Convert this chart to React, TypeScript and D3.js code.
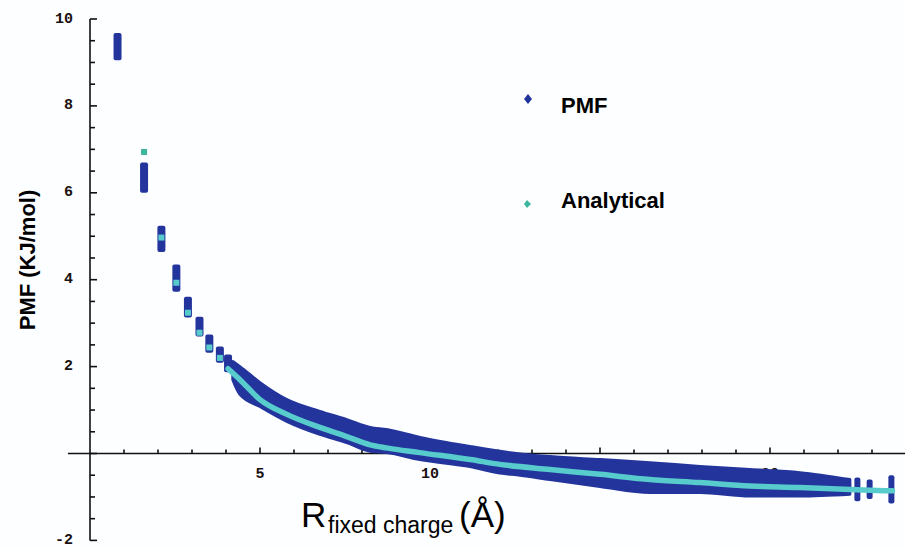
import React from "react";
import * as d3 from "d3";

// PMF spread at the discrete sampling distances (Å, lower, upper in KJ/mol)
const clusterR = [0.81, 1.59, 2.10, 2.54, 2.88, 3.22, 3.51, 3.82, 4.06];
const clusterLo = [9.05, 6.0, 4.64, 3.72, 3.13, 2.69, 2.32, 2.09, 1.87];
const clusterHi = [9.68, 6.7, 5.24, 4.35, 3.61, 3.15, 2.74, 2.46, 2.28];

// PMF band envelope in the dense region
const bandR = [4.2, 4.41, 5.0, 5.79, 6.76, 7.55, 8.24, 8.72, 9.7, 11.18, 12.06, 12.65, 13.53, 15.0, 16.47, 17.94, 19.41, 20.88, 22.35];
const bandHi = [2.12, 2.0, 1.63, 1.24, 0.97, 0.78, 0.6, 0.55, 0.37, 0.16, 0.05, -0.01, -0.07, -0.14, -0.21, -0.3, -0.37, -0.44, -0.6];
const bandLo = [1.7, 1.36, 1.08, 0.74, 0.44, 0.25, 0.05, 0.02, -0.14, -0.3, -0.45, -0.5, -0.6, -0.76, -0.9, -0.9, -0.98, -0.98, -0.94];

// Scattered PMF samples at the far end
const tailR = [22.57, 22.93, 23.57];
const tailLo = [-1.1, -1.05, -1.15];
const tailHi = [-0.55, -0.6, -0.5];

// Analytical curve
const analyticR = [1.59, 2.10, 2.54, 2.88, 3.22, 3.51, 3.82, 4.06, 4.41, 5.0, 5.79, 6.76, 7.55, 8.24, 8.72, 9.7, 11.18, 12.06, 13.53, 15.0, 16.47, 17.94, 19.41, 20.88, 22.35, 23.6];
const analyticY = [6.94, 4.97, 3.93, 3.24, 2.78, 2.44, 2.2, 1.95, 1.7, 1.24, 0.9, 0.6, 0.39, 0.2, 0.13, 0.02, -0.14, -0.25, -0.37, -0.48, -0.6, -0.67, -0.75, -0.78, -0.83, -0.86];

const yMajor = [-2, 0, 2, 4, 6, 8, 10];
const yLabels = ["-2", "", "2", "4", "6", "8", "10"];
const xMajor = [5, 10, 15, 20];
const xLabels = ["5", "10", "15", "20"];

const W = 905;
const H = 548;
const DARK = "#23349c";
const CYAN = "#58cbcc";
const TEAL = "#3bb79e";

export default function App() {
  const x = d3.scaleLinear().domain([0, 23]).range([90, 872]);
  const y = d3.scaleLinear().domain([0, 10]).range([453.5, 19]);

  const yMinor = d3.range(-2, 10.001, 0.5).filter((v) => Math.abs(v - Math.round(v / 2) * 2) > 1e-6);
  const xMinor = d3.range(1, 24, 1).filter((v) => v % 5 !== 0);

  const band = bandR.map((r, i) => ({ r, lo: bandLo[i], hi: bandHi[i] }));
  const area = d3
    .area<{ r: number; lo: number; hi: number }>()
    .x((d) => x(d.r))
    .y0((d) => y(d.lo))
    .y1((d) => y(d.hi))
    .curve(d3.curveMonotoneX)(band);

  const anaPts = analyticR.map((r, i) => ({ r, v: analyticY[i] })).filter((d) => d.r >= 4.0);
  const anaLine = d3
    .line<{ r: number; v: number }>()
    .x((d) => x(d.r))
    .y((d) => y(d.v))
    .curve(d3.curveMonotoneX)(anaPts);
  const anaMarks = analyticR.map((r, i) => ({ r, v: analyticY[i] })).filter((d) => d.r < 4.0);

  const mono = "'Courier New', 'Liberation Mono', 'DejaVu Sans Mono', monospace";
  const sans = "Arial, 'Liberation Sans', Helvetica, sans-serif";

  return (
    <svg
      width={W}
      height={H}
      style={{ position: "absolute", left: 0, top: 0, background: "#fdfeff" }}
    >
      {/* Axes */}
      <g stroke="#111" strokeWidth={1.6} fill="none">
        <line x1={x(-0.65)} x2={W} y1={y(0)} y2={y(0)} />
        <line x1={x(0)} x2={x(0)} y1={y(-2)} y2={y(10)} />
        {yMajor.map((v) => (
          <line key={"ym" + v} x1={x(0)} x2={x(0) + 7} y1={y(v)} y2={y(v)} />
        ))}
        {yMinor.map((v) => (
          <line key={"yn" + v} x1={x(0)} x2={x(0) + 5} y1={y(v)} y2={y(v)} />
        ))}
        {xMajor.map((v) => (
          <line key={"xm" + v} x1={x(v)} x2={x(v)} y1={y(0)} y2={y(0) - 6} />
        ))}
        {xMinor.map((v) => (
          <line key={"xn" + v} x1={x(v)} x2={x(v)} y1={y(0)} y2={y(0) - 4} />
        ))}
      </g>

      {/* Tick labels */}
      <g fontFamily={mono} fontSize={15} fill="#1a1010" fontWeight="bold">
        {yMajor.map((v, i) => (
          <text key={"yl" + v} x={73} y={y(v)} textAnchor="end" dominantBaseline="central">
            {yLabels[i]}
          </text>
        ))}
        {xMajor.map((v, i) => (
          <text key={"xl" + v} x={x(v)} y={y(0) + 21} textAnchor="middle" dominantBaseline="central">
            {xLabels[i]}
          </text>
        ))}
      </g>

      {/* PMF data */}
      <g fill={DARK}>
        {clusterR.map((r, i) => (
          <rect
            key={"c" + r}
            x={x(r) - 4}
            y={y(clusterHi[i])}
            width={8}
            height={y(clusterLo[i]) - y(clusterHi[i])}
            rx={2}
          />
        ))}
        <path d={area || ""} stroke={DARK} strokeWidth={3} strokeLinejoin="round" />
        {tailR.map((r, i) => (
          <rect
            key={"t" + r}
            x={x(r) - 3}
            y={y(tailHi[i])}
            width={6}
            height={y(tailLo[i]) - y(tailHi[i])}
            rx={2}
          />
        ))}
      </g>

      {/* Analytical */}
      <path d={anaLine || ""} fill="none" stroke={CYAN} strokeWidth={5.5} strokeLinecap="round" />
      {anaMarks.map((d) => (
        <rect key={"a" + d.r} x={x(d.r) - 3} y={y(d.v) - 3} width={6} height={6} fill={d.r < 1.8 ? TEAL : CYAN} />
      ))}

      {/* Legend */}
      <path d="M528,94 L532,99 L528,104 L524,99 Z" fill={DARK} />
      <path d="M527,200 L531,204 L527,208 L524,204 Z" fill={TEAL} />
      <g fontFamily={sans} fontWeight="bold" fontSize={22} fill="#000">
        <text x={561} y={113}>PMF</text>
        <text x={561} y={208}>Analytical</text>
      </g>

      {/* Axis titles */}
      <text
        transform="translate(35,260) rotate(-90)"
        textAnchor="middle"
        fontFamily={sans}
        fontWeight="bold"
        fontSize={22}
        fill="#000"
      >
        PMF (KJ/mol)
      </text>
      <g fontFamily={sans} fill="#000">
        <text x={301} y={527} fontSize={35}>R</text>
        <text x={328} y={533} fontSize={23}>fixed charge</text>
        <text x={459} y={527} fontSize={35}>(Å)</text>
      </g>
    </svg>
  );
}
